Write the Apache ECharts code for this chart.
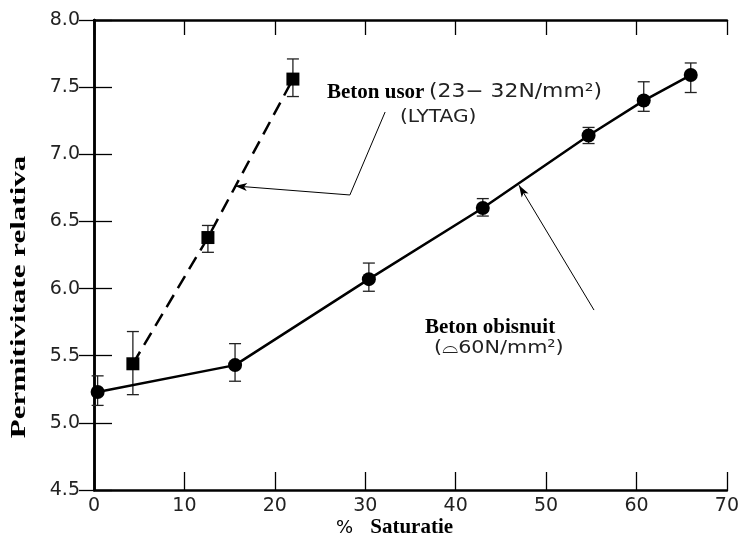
<!DOCTYPE html>
<html lang="ro">
<head>
    <meta charset="UTF-8">
    <title>Permitivitate relativa</title>
    <script src="https://cdn.jsdelivr.net/npm/echarts@6/dist/echarts.min.js"></script>
    <style>
        html, body { margin: 0; padding: 0; background: #fff; }
    </style>
</head>
<body>
    <div id="chart" style="width: 742px;height:542px;"></div>
    <script type="text/javascript">
       // beton obisnuit (cercuri)
       var normX = [0.4, 15.6, 30.4, 43.0, 54.7, 60.8, 66.0];
       var normY = [5.23, 5.43, 6.07, 6.60, 7.14, 7.40, 7.59];
       var normLo = [5.13, 5.31, 5.98, 6.54, 7.08, 7.32, 7.46];
       var normHi = [5.35, 5.59, 6.19, 6.67, 7.20, 7.54, 7.68];

       // beton usor LYTAG (patrate)
       var lightX = [4.3, 12.6, 22.0];
       var lightY = [5.44, 6.38, 7.56];
       var lightLo = [5.21, 6.27, 7.43];
       var lightHi = [5.68, 6.47, 7.71];

       // liniile de legatura ale etichetelor
       var usorLeader = [[32.2, 7.315], [28.3, 6.697], [15.6, 6.764]];
       var obisnuitLeader = [[55.3, 5.84], [47.0, 6.77]];

       var tickFont = { fontFamily: 'DejaVu Sans', fontSize: 19, color: '#222' };

       function pairs(xs, ys) {
           return xs.map(function (x, i) { return [x, ys[i]]; });
       }
       function errData(xs, lo, hi) {
           return xs.map(function (x, i) { return [x, lo[i], hi[i]]; });
       }
       function renderErr(params, api) {
           var x = api.value(0);
           var lo = api.coord([x, api.value(1)]);
           var hi = api.coord([x, api.value(2)]);
           var w = 6;
           var st = { stroke: '#222', lineWidth: 1.3 };
           return {
               type: 'group',
               children: [
                   { type: 'line', shape: { x1: lo[0], y1: lo[1], x2: hi[0], y2: hi[1] }, style: st },
                   { type: 'line', shape: { x1: lo[0] - w, y1: lo[1], x2: lo[0] + w, y2: lo[1] }, style: st },
                   { type: 'line', shape: { x1: hi[0] - w, y1: hi[1], x2: hi[0] + w, y2: hi[1] }, style: st }
               ]
           };
       }
       function leader(pts) {
           var out = [];
           for (var i = 0; i < pts.length - 1; i++) {
               var last = i === pts.length - 2;
               out.push([
                   { coord: pts[i], symbol: 'none' },
                   { coord: pts[i + 1], symbol: last ? 'arrow' : 'none', symbolSize: [6, 12] }
               ]);
           }
           return out;
       }

       var myChart = echarts.init(document.getElementById('chart'));
       var option = {
           animation: false,
           backgroundColor: '#fff',
           grid: { left: 94, right: 14, top: 20, bottom: 52 },
           xAxis: [{
               type: 'value', position: 'bottom', min: 0, max: 70, interval: 10,
               axisLine: { lineStyle: { color: '#000', width: 2.5 } },
               axisTick: { inside: true, length: 18, lineStyle: { color: '#000', width: 1.3 } },
               axisLabel: Object.assign({ margin: 7 }, tickFont),
               splitLine: { show: false }
           }, {
               type: 'value', position: 'top', min: 0, max: 70, interval: 10,
               axisLine: { lineStyle: { color: '#000', width: 2.5 } },
               axisTick: { inside: true, length: 15, lineStyle: { color: '#000', width: 1.3 } },
               axisLabel: { show: false },
               splitLine: { show: false }
           }],
           yAxis: [{
               type: 'value', position: 'left', min: 4.5, max: 8.0, interval: 0.5,
               axisLine: { lineStyle: { color: '#000', width: 2.5 } },
               axisTick: { inside: true, length: 18, lineStyle: { color: '#000', width: 1.3 } },
               axisLabel: Object.assign({ margin: 14, formatter: function (v) { return v.toFixed(1); } }, tickFont),
               splitLine: { show: false }
           }, {
               type: 'value', position: 'right', min: 4.5, max: 8.0, interval: 0.5,
               axisLine: { lineStyle: { color: '#000', width: 2.5 } },
               axisTick: { inside: true, length: 15, lineStyle: { color: '#000', width: 1.3 } },
               axisLabel: { show: false },
               splitLine: { show: false }
           }],
           series: [{
               name: 'Beton obisnuit',
               type: 'line',
               data: pairs(normX, normY),
               symbol: 'circle',
               symbolSize: 14,
               itemStyle: { color: '#000' },
               lineStyle: { color: '#000', width: 2.5 },
               z: 3,
               markLine: {
                   silent: true,
                   label: { show: false },
                   lineStyle: { color: '#000', width: 1, type: 'solid' },
                   data: leader(usorLeader).concat(leader(obisnuitLeader))
               }
           }, {
               name: 'Beton usor',
               type: 'line',
               data: pairs(lightX, lightY),
               symbol: 'rect',
               symbolSize: 13,
               itemStyle: { color: '#000' },
               lineStyle: { color: '#000', width: 2.5, type: [14, 8] },
               z: 3
           }, {
               type: 'custom',
               renderItem: renderErr,
               data: errData(normX, normLo, normHi),
               z: 2
           }, {
               type: 'custom',
               renderItem: renderErr,
               data: errData(lightX, lightLo, lightHi),
               z: 2
           }],
           graphic: [{
               type: 'text', x: 20, y: 297, rotation: Math.PI / 2, scaleX: 1.55,
               style: {
                   text: 'Permitivitate relativa', fill: '#000',
                   font: 'bold 20px "Liberation Serif"', align: 'center', verticalAlign: 'middle'
               }
           }, {
               type: 'text', x: 336, y: 528,
               style: {
                   text: '{p|%   }{b|Saturatie}', verticalAlign: 'middle',
                   rich: {
                       p: { fontFamily: 'DejaVu Sans', fontSize: 18, color: '#222' },
                       b: { fontFamily: 'Liberation Serif', fontWeight: 'bold', fontSize: 21, color: '#000' }
                   }
               }
           }, {
               type: 'text', x: 327, y: 93,
               style: { text: 'Beton usor', font: 'bold 21px "Liberation Serif"', fill: '#000', verticalAlign: 'middle' }
           }, {
               type: 'text', x: 429, y: 92, scaleX: 1.15,
               style: { text: '(23− 32N/mm²)', font: '19px "DejaVu Sans"', fill: '#222', verticalAlign: 'middle' }
           }, {
               type: 'text', x: 400, y: 117, scaleX: 1.12,
               style: { text: '(LYTAG)', font: '18px "DejaVu Sans"', fill: '#222', verticalAlign: 'middle' }
           }, {
               type: 'text', x: 425, y: 328,
               style: { text: 'Beton obisnuit', font: 'bold 21px "Liberation Serif"', fill: '#000', verticalAlign: 'middle' }
           }, {
               type: 'text', x: 434, y: 348, scaleX: 1.15,
               style: { text: '(⌓60N/mm²)', font: '18px "DejaVu Sans"', fill: '#222', verticalAlign: 'middle' }
           }]
       };
       myChart.setOption(option);
    </script>
</body>
</html>
